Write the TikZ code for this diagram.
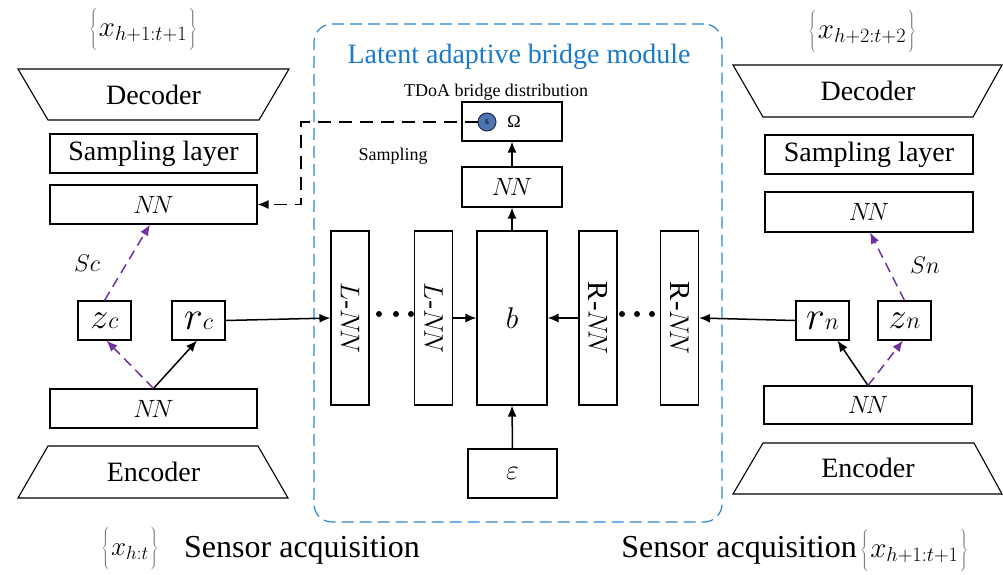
\RequirePackage{fix-cm}
\documentclass[tikz,border=0pt]{standalone}
\usepackage{fontspec}
\setmainfont{Liberation Serif}
\usetikzlibrary{arrows.meta}
\newcommand\fsz[1]{\fontsize{#1}{#1}\selectfont}
\newcommand\brl{{\color{gray}$\left\{\vrule width0pt height 15pt depth 15pt\right.$}}
\newcommand\brr{{\color{gray}$\left.\vrule width0pt height 15pt depth 15pt\right\}$}}
\newcommand\xsub[1]{$x_{#1}$}
\definecolor{framebl}{HTML}{2B86CF}
\definecolor{titlebl}{HTML}{1A7AC8}
\definecolor{violetl}{HTML}{7030A0}
\definecolor{ballfill}{HTML}{4F74B2}
\definecolor{balldraw}{HTML}{1E2E4A}
\tikzset{
  box/.style={draw, line width=1.1pt, inner sep=0pt, font=\fsz{28}},
  wide/.style={box, minimum width=207pt, minimum height=39pt},
  tall/.style={box, minimum width=38pt, minimum height=174pt, font=\fsz{27}},
  small/.style={box, minimum width=53pt, minimum height=39pt},
  trap/.style={line width=1.1pt, line join=miter},
  arr/.style={line width=1.5pt, -{Latex[length=11pt,width=9pt]}},
  parr/.style={arr, violetl, dash pattern=on 10pt off 6pt},
  darr/.style={arr, dash pattern=on 13pt off 8pt},
  plain/.style={inner sep=0pt},
  dot/.style={circle, fill, inner sep=0pt, minimum size=6pt}
}
\begin{document}
\begin{tikzpicture}[x=1pt, y=-1pt]
\useasboundingbox (0,0) rectangle (1003,574);

% ---- left branch ----
\node[plain, font=\fsz{29}] (xtl) at (143,30) {\brl\xsub{h+1{:}t+1}\brr};
\draw[trap] (18,69) -- (289,69) -- (259,120) -- (48,120) -- cycle;
\node[plain, font=\fsz{28}] (decL) at (153.5,95) {Decoder};
\node[wide] (sampL) at (153.5,153.5) {Sampling layer};
\node[wide, font=\fsz{25}] (nnLt) at (153.5,204.5) {$N\!N$};
\node[plain, font=\fsz{24}] (scL) at (87,263) {$Sc$};
\node[small] (zc) at (104.5,320.5) {\fsz{36}$z$\fsz{24}$c$};
\node[small] (rc) at (198.5,320.5) {\fsz{40}$r$\fsz{24}$c$};
\node[wide, font=\fsz{25}] (nnLb) at (153.5,408.5) {$N\!N$};
\draw[trap] (48,446) -- (258,446) -- (288,498) -- (18,498) -- cycle;
\node[plain, font=\fsz{28}] (encL) at (153.5,472) {Encoder};
\node[plain, font=\fsz{27}] (xbl) at (130,549) {\brl\xsub{h{:}t}\brr};
\node[plain, font=\fsz{32}, anchor=west] (sensL) at (184,550) {Sensor acquisition};

% ---- bridge module ----
\node[draw=framebl, line width=1.2pt, dash pattern=on 12pt off 6pt, rounded corners=18pt,
      minimum width=408pt, minimum height=498pt, inner sep=0pt] (frame) at (518,273) {};
\node[plain, font=\fsz{28}, text=titlebl] (title) at (519,57) {Latent adaptive bridge module};
\node[plain, font=\fsz{18}] (tdoa) at (496,92) {TDoA bridge distribution};
\node[box, minimum width=100pt, minimum height=39pt] (om) at (512,121.5) {};
\node[circle, draw=balldraw, fill=ballfill, line width=1pt, minimum size=18pt, inner sep=0pt,
      font=\fsz{10}] (s) at (487,122) {s};
\node[plain, font=\fsz{18}] (omega) at (514,122) {Ω};
\node[plain, font=\fsz{18}] (samp) at (393,156) {Sampling};
\node[box, minimum width=100pt, minimum height=40pt, font=\fsz{25}] (nnM) at (512,187) {$N\!N$};
\node[tall] (lnn1) at (350,318) {\rotatebox{-90}{$L$-$N\!N$}};
\node[tall] (lnn2) at (433.5,318) {\rotatebox{-90}{$L$-$N\!N$}};
\node[box, minimum width=70pt, minimum height=174pt, font=\fsz{30}] (b) at (512,318) {$b$};
\node[tall] (rnn1) at (598,318) {\rotatebox{-90}{\fsz{29}R-\fsz{27}$N\!N$}};
\node[tall] (rnn2) at (679.5,318) {\rotatebox{-90}{\fsz{29}R-\fsz{27}$N\!N$}};
\node[dot] (dl1) at (379,314) {};
\node[dot] (dl2) at (396,314) {};
\node[dot] (dl3) at (411,314) {};
\node[dot] (dr1) at (622,314) {};
\node[dot] (dr2) at (637,314) {};
\node[dot] (dr3) at (652,314) {};
\node[box, minimum width=89pt, minimum height=49pt] (eps) at (512.5,473.5) {$\varepsilon$};

% ---- right branch ----
\node[plain, font=\fsz{29}] (xtr) at (862,32) {\brl\xsub{h+2{:}t+2}\brr};
\draw[trap] (733,65) -- (1002,65) -- (973,117) -- (763,117) -- cycle;
\node[plain, font=\fsz{28}] (decR) at (868,91) {Decoder};
\node[wide, minimum width=208pt] (sampR) at (869,154.5) {Sampling layer};
\node[wide, minimum width=208pt, minimum height=40pt, font=\fsz{25}] (nnRt) at (869,212) {$N\!N$};
\node[plain, font=\fsz{24}] (snR) at (925,265) {$Sn$};
\node[small] (rn) at (822.5,320.5) {\fsz{40}$r$\fsz{24}$n$};
\node[small] (zn) at (904.5,320.5) {\fsz{36}$z$\fsz{24}$n$};
\node[wide, minimum width=208pt, minimum height=38pt, font=\fsz{25}] (nnRb) at (868,405) {$N\!N$};
\draw[trap] (763,443) -- (974,443) -- (1002,494) -- (733,494) -- cycle;
\node[plain, font=\fsz{28}] (encR) at (868,468) {Encoder};
\node[plain, font=\fsz{32}, anchor=east] (sensR) at (857,550) {Sensor acquisition};
\node[plain, font=\fsz{29}, anchor=west] (xbr) at (860,551) {\brl\xsub{h+1{:}t+1}\brr};

% ---- connectors ----
\draw[arr] (nnLb.north) -- ([xshift=-1.5pt]rc.south);
\draw[parr] (nnLb.north) -- ([xshift=2pt]zc.south);
\draw[parr] (zc.north) -- ([xshift=-3.5pt]nnLt.south);
\draw[arr] (rc.east) -- (lnn1.west);
\draw[arr] (lnn2.east) -- (b.west);
\draw[arr] (rnn1.west) -- (b.east);
\draw[arr] (rn.west) -- (rnn2.east);
\draw[arr] (eps.north) -- (b.south);
\draw[arr] (b.north) -- (nnM.south);
\draw[arr] (nnM.north) -- (om.south);
\draw[arr] (nnRb.north) -- ([xshift=15pt]rn.south);
\draw[parr] (nnRb.north) -- ([xshift=-1.5pt]zn.south);
\draw[parr] (zn.north) -- ([xshift=1pt]nnRt.south);
\coordinate (bend1) at (301,122);
\coordinate (bend2) at (301,204.5);
\draw[darr] (s.west) -- (bend1) -- (bend2) -- (nnLt.east);
\end{tikzpicture}
\end{document}
